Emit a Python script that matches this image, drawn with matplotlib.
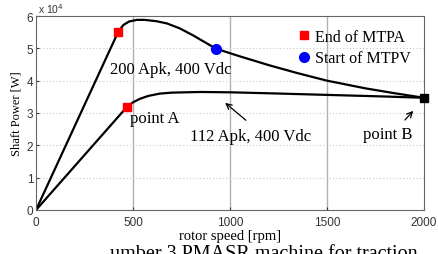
import numpy as np
import matplotlib
matplotlib.use("Agg")
import matplotlib.pyplot as plt

# ── data (power in 1e4 W) ─────────────────────────────────────────────────
speed_200 = [0, 423, 450, 480, 520, 560, 620, 675, 740, 810, 870, 928, 1000, 1052,
             1200, 1350, 1500, 1700, 1850, 2000]
power_200 = [0, 5.50, 5.72, 5.83, 5.88, 5.88, 5.84, 5.77, 5.62, 5.40, 5.19, 4.99, 4.85, 4.75,
             4.48, 4.23, 4.00, 3.76, 3.61, 3.47]

speed_112 = [0, 469, 500, 536, 580, 639, 700, 845, 1000, 1200, 1500, 1800, 2000]
power_112 = [0, 3.19, 3.33, 3.44, 3.53, 3.60, 3.63, 3.65, 3.64, 3.61, 3.56, 3.51, 3.47]

mtpa_speed = [423, 469]
mtpa_power = [5.50, 3.19]
mtpv_speed = [928]
mtpv_power = [4.99]
pointB = (2000, 3.47)

serif = "Liberation Serif"
sans = "Liberation Sans"

fig = plt.figure(figsize=(4.39, 2.55), dpi=100)
ax = fig.add_axes([36/439, 1 - 211/255, 388/439, 194/255])

ax.plot(speed_200, power_200, color="black", lw=1.6)
ax.plot(speed_112, power_112, color="black", lw=1.6)
ax.plot(mtpa_speed, mtpa_power, "s", color="red", ms=6, label="End of MTPA", zorder=5)
ax.plot(mtpv_speed, mtpv_power, "o", color="blue", ms=7, label="Start of MTPV", zorder=5)
ax.plot(*pointB, "s", color="black", ms=6, zorder=5, clip_on=False)

ax.set_xlim(0, 2000)
ax.set_ylim(0, 6)
ax.set_xticks([0, 500, 1000, 1500, 2000])
ax.set_yticks(range(7))
for x in [500, 1000, 1500]:
    ax.axvline(x, color="#b0b0b0", lw=1.0, zorder=0)
for y in range(1, 6):
    ax.axhline(y, color="#c8c8c8", lw=0.8, ls=(0, (1, 2)), zorder=0)
ax.tick_params(direction="in", length=2, labelsize=8.5, colors="#333333")
ax.tick_params(axis="x", pad=4)
ax.tick_params(axis="y", pad=2)
for lab in ax.get_xticklabels() + ax.get_yticklabels():
    lab.set_family(sans)
for s in ax.spines.values():
    s.set_color("#666666")
    s.set_linewidth(0.8)

ax.text(0.005, 1.005, r"x 10$^4$", transform=ax.transAxes, fontsize=7.5,
        family=sans, va="bottom", color="#333333")

ax.set_xlabel("rotor speed [rpm]", family=serif, fontsize=10.5, labelpad=1)
ax.set_ylabel("Shaft Power [W]", family=serif, fontsize=9, labelpad=3)

ax.text(381, 4.24, "200 Apk, 400 Vdc", family=serif, fontsize=12)
ax.text(485, 2.72, "point A", family=serif, fontsize=12)
ax.text(793, 2.17, "112 Apk, 400 Vdc", family=serif, fontsize=12)
ax.text(1685, 2.23, "point B", family=serif, fontsize=12)
ax.annotate("", xy=(964, 3.37), xytext=(1093, 2.72),
            arrowprops=dict(arrowstyle="->", color="black", lw=0.9))
ax.annotate("", xy=(1954, 3.13), xytext=(1892, 2.72),
            arrowprops=dict(arrowstyle="->", color="black", lw=0.9))

ax.legend(loc="upper right", frameon=False, prop={"family": serif, "size": 11.5},
          handletextpad=0.2, handlelength=1.0, borderaxespad=0.4, labelspacing=0.35)

fig.text(110/439, -4/255, "umber 3 PMASR machine for traction", family=serif, fontsize=14.5)

fig.savefig("out.png", dpi=100)
